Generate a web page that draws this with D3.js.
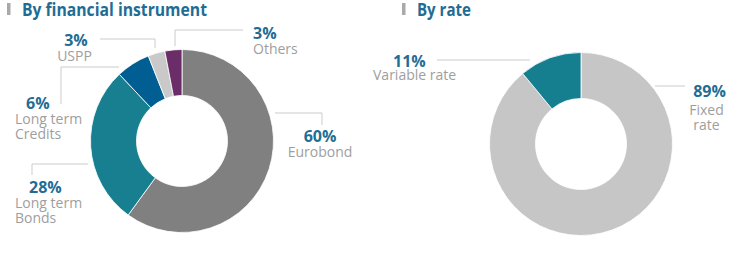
<!DOCTYPE html>
<html>
<head>
<meta charset="utf-8">
<script src="https://cdn.jsdelivr.net/npm/d3@7"></script>
<style>
  body { margin: 0; background: #fff; }
  text { font-family: "Open Sans", "Noto Sans", sans-serif; }
</style>
</head>
<body>
<script>
// data
var instrumentNames = ["Eurobond", "Long term Bonds", "Long term Credits", "USPP", "Others"];
var instrumentValues = [60, 28, 6, 3, 3];
var instrumentColors = ["#808080", "#177f8f", "#005e92", "#c9c9c9", "#6a2d68"];

var rateNames = ["Fixed rate", "Variable rate"];
var rateValues = [89, 11];
var rateColors = ["#c6c6c6", "#157f90"];

var w = 742;
var h = 258;
var blue = "#1f6d95";
var grey = "#9e9e9e";
var lineGrey = "#cbcbcb";

// label layout, same order as the data
var instrumentLayout = [
    { x: 320, y: 142, anchor: "middle", lines: ["Eurobond"], leader: [[275, 113], [322, 113], [322, 125]] },
    { x: 29, lx: 15, y: 193, anchor: "start", lines: ["Long term", "Bonds"], leader: [[88, 164], [32, 164], [32, 175]] },
    { x: 26, lx: 15, y: 109, anchor: "start", lines: ["Long term", "Credits"], leader: [[119, 67], [61, 67], [61, 104]] },
    { x: 76, lx: 74.5, y: 46, anchor: "middle", lines: ["USPP"], leader: [[100, 39], [155, 39], [155, 48]] },
    { x: 253, y: 39, anchor: "start", lines: ["Others"], leader: [[175, 46], [175, 30], [243, 30]] }
];
var rateLayout = [
    { x: 709.5, lx: 706.5, y: 97, anchor: "middle", lines: ["Fixed", "rate"], leader: [[655, 86], [685, 86]], gap: 18 },
    { x: 393, lx: 373, y: 67, anchor: "start", lines: ["Variable rate"], leader: [[437, 60], [530, 60]], gap: 13 }
];

var svg = d3.select("body")
    .append("svg")
    .attr("width", w)
    .attr("height", h);

function title(x, txt, len) {
    svg.append("rect")
        .attr("x", x)
        .attr("y", 3)
        .attr("width", 3.5)
        .attr("height", 12)
        .attr("fill", "#a9a9a9");
    svg.append("text")
        .attr("x", x + 15)
        .attr("y", 15.5)
        .attr("font-size", "18px")
        .attr("font-weight", "bold")
        .attr("fill", blue)
        .attr("textLength", len)
        .attr("lengthAdjust", "spacingAndGlyphs")
        .text(txt);
}

function donut(cx, cy, values, names, colors, layout) {
    var pie = d3.pie().sort(null).value(d => d);
    var arc = d3.arc().innerRadius(45.5).outerRadius(91.5);

    var g = svg.append("g").attr("transform", "translate(" + cx + "," + cy + ")");
    g.selectAll("path")
        .data(pie(values))
        .enter()
        .append("path")
        .attr("d", arc)
        .attr("fill", (d, i) => colors[i])
        .attr("stroke", "#fff")
        .attr("stroke-width", 0.8);

    var line = d3.line();
    layout.forEach(function (l, i) {
        svg.append("path")
            .attr("d", line(l.leader))
            .attr("fill", "none")
            .attr("stroke", lineGrey)
            .attr("stroke-width", 1);

        svg.append("text")
            .attr("x", l.x)
            .attr("y", l.y)
            .attr("text-anchor", l.anchor)
            .attr("font-size", "16px")
            .attr("font-weight", "bold")
            .attr("fill", blue)
            .text(values[i] + "%");

        var lx = l.lx != null ? l.lx : l.x;
        var gap = l.gap || 15;
        l.lines.forEach(function (t, j) {
            svg.append("text")
                .attr("x", lx)
                .attr("y", l.y + gap + j * 15)
                .attr("text-anchor", l.anchor)
                .attr("font-size", "14px")
                .attr("fill", grey)
                .text(t);
        });
    });
}

title(7, "By financial instrument", 185);
title(402, "By rate", 54);

donut(182, 141, instrumentValues, instrumentNames, instrumentColors, instrumentLayout);
donut(581, 144, rateValues, rateNames, rateColors, rateLayout);
</script>
</body>
</html>
